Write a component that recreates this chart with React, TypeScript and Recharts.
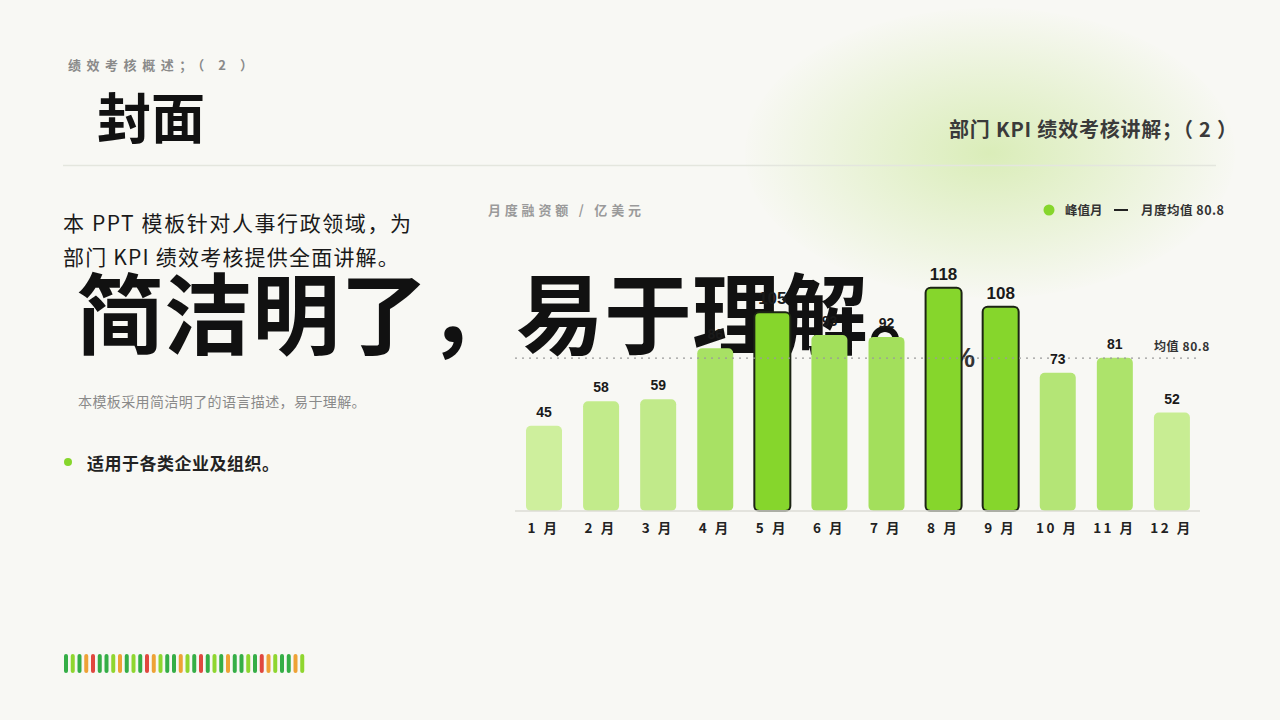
import React from 'react';
import { BarChart, Bar, XAxis, YAxis, Cell, LabelList, ReferenceLine } from 'recharts';

const months = ['1 月', '2 月', '3 月', '4 月', '5 月', '6 月', '7 月', '8 月', '9 月', '10 月', '11 月', '12 月'];
const funding = [45, 58, 59, 86, 105, 93, 92, 118, 108, 73, 81, 52];
const peakThreshold = 100;
const stripColors = ['d', 'l', 'd', 'o', 'r', 'd', 'd', 'l', 'o', 'd', 'l', 'd', 'r', 'o', 'l', 'd', 'd', 'o', 'l', 'd', 'r', 'd', 'l', 'd', 'o', 'd', 'd', 'l', 'd', 'r', 'o', 'l', 'd', 'd', 'o', 'l'];

const data = months.map((m, i) => ({ month: m, value: funding[i] }));
const average = Math.round((funding.reduce((a, b) => a + b, 0) / funding.length) * 10) / 10;

const FONT = '"Noto Sans CJK SC", "Noto Sans", sans-serif';
const NUMFONT = '"Liberation Sans", "Noto Sans CJK SC", sans-serif';

function mix(a: number[], b: number[], t: number) {
  const c = a.map((v, i) => Math.round(v + (b[i] - v) * t));
  return `rgb(${c[0]},${c[1]},${c[2]})`;
}
function barColor(v: number) {
  if (v >= peakThreshold) return '#86d62c';
  const t = Math.max(0, Math.min(1, (v - 45) / (95 - 45)));
  return mix([206, 239, 157], [160, 222, 88], t);
}
const stripMap: Record<string, string> = { d: '#35ae46', l: '#8fd62f', o: '#eea235', r: '#e0483f' };

const ValueLabel = (props: any) => {
  const { x, y, width, value } = props;
  const peak = value >= peakThreshold;
  return (
    <text
      x={x + width / 2}
      y={y - (peak ? 8 : 9)}
      textAnchor="middle"
      fontFamily={NUMFONT}
      fontWeight={700}
      fontSize={peak ? 17 : 14}
      fill="#1a1a1a"
    >
      {value}
    </text>
  );
};

const AvgLabel = (props: any) => {
  const vb = props.viewBox || {};
  return (
    <text x={vb.x + vb.width + 10} y={vb.y - 7} textAnchor="end" fontFamily={FONT} fontWeight={700} fontSize={12} fill="#333" letterSpacing={0.6}>
      {`均值 ${average}`}
    </text>
  );
};

export default function App() {
  return (
    <div style={{ position: 'fixed', left: 0, top: 0, width: 1280, height: 720, background: '#f8f8f4', overflow: 'hidden', fontFamily: FONT }}>
      <div
        style={{
          position: 'absolute',
          left: 745,
          top: 8,
          width: 490,
          height: 290,
          borderRadius: '50%',
          background: 'radial-gradient(ellipse at 50% 50%, rgba(208,233,165,0.75) 0%, rgba(218,237,185,0.45) 40%, rgba(247,248,243,0) 72%)',
        }}
      />
      <svg width={1280} height={720} style={{ position: 'absolute', left: 0, top: 0 }}>
        <text x={68} y={70} fontSize={13} fontWeight={700} fill="#8a8a8a" textLength={185} lengthAdjust="spacing">绩效考核概述；（ 2 ）</text>
        <text x={97} y={139} fontSize={54} fontWeight={700} fill="#111">封面</text>
        <line x1={63} y1={165.5} x2={1216} y2={165.5} stroke="#e4e6de" strokeWidth={1.5} />
        <text x={949} y={137} fontSize={20} fontWeight={700} fill="#3a3a3a" textLength={288} lengthAdjust="spacing">部门 KPI 绩效考核讲解；（ 2 ）</text>
        <text x={63} y={231} fontSize={21} fontWeight={400} fill="#1a1a1a" textLength={348} lengthAdjust="spacing">本 PPT 模板针对人事行政领域，为</text>
        <text x={63} y={265} fontSize={21} fontWeight={400} fill="#1a1a1a" letterSpacing={1.2}>部门 KPI 绩效考核提供全面讲解。</text>
        <text x={76} y={347} fontSize={88} fontWeight={700} fill="#111">简洁明了，易于理解。</text>
        <text x={951} y={367} fontSize={27} fontWeight={700} fill="#333" fontFamily={NUMFONT}>%</text>
        <text x={78} y={407} fontSize={14} fill="#8a8a8a" letterSpacing={0.4}>本模板采用简洁明了的语言描述，易于理解。</text>
        <circle cx={68} cy={462} r={4} fill="#86d62c" />
        <text x={87} y={470} fontSize={17} fontWeight={700} fill="#222" letterSpacing={0.5}>适用于各类企业及组织。</text>
        <text x={488} y={215} fontSize={13} fontWeight={700} fill="#9a9a9a" textLength={153} lengthAdjust="spacing">月度融资额 / 亿美元</text>
        <circle cx={1049} cy={210} r={5.5} fill="#86d62c" />
        <text x={1065} y={215} fontSize={12.5} fontWeight={700} fill="#333">峰值月</text>
        <line x1={1114} y1={210} x2={1128} y2={210} stroke="#222" strokeWidth={2} />
        <text x={1141} y={215} fontSize={12.5} fontWeight={700} fill="#333" textLength={83} lengthAdjust="spacing">{`月度均值 ${average}`}</text>
        {stripColors.map((c, i) => (
          <rect key={i} x={64 + i * 6.75} y={654} width={4} height={19} rx={2} fill={stripMap[c]} />
        ))}
      </svg>
      <div style={{ position: 'absolute', left: 480, top: 250 }}>
        <BarChart width={740} height={300} data={data} margin={{ top: 15, right: 20, bottom: 9, left: 35 }} barCategoryGap={0}>
          <XAxis
            dataKey="month"
            axisLine={{ stroke: '#dcdcd6', strokeWidth: 1.5 }}
            tickLine={false}
            tickSize={0}
            tickMargin={12}
            interval={0}
            height={30}
            tick={{ fontSize: 13.5, fontWeight: 700, fill: '#222', fontFamily: FONT, letterSpacing: 2.5 }}
          />
          <YAxis hide domain={[0, 130]} />
          <ReferenceLine y={average} stroke="#9a9a9a" strokeWidth={1.2} strokeDasharray="2 5" label={<AvgLabel />} />
          <Bar dataKey="value" barSize={36} radius={[5, 5, 5, 5]} isAnimationActive={false}>
            {data.map((d, i) => (
              <Cell
                key={i}
                fill={barColor(d.value)}
                stroke={d.value >= peakThreshold ? '#1c2414' : 'none'}
                strokeWidth={d.value >= peakThreshold ? 2 : 0}
              />
            ))}
            <LabelList dataKey="value" content={<ValueLabel />} />
          </Bar>
        </BarChart>
      </div>
    </div>
  );
}
